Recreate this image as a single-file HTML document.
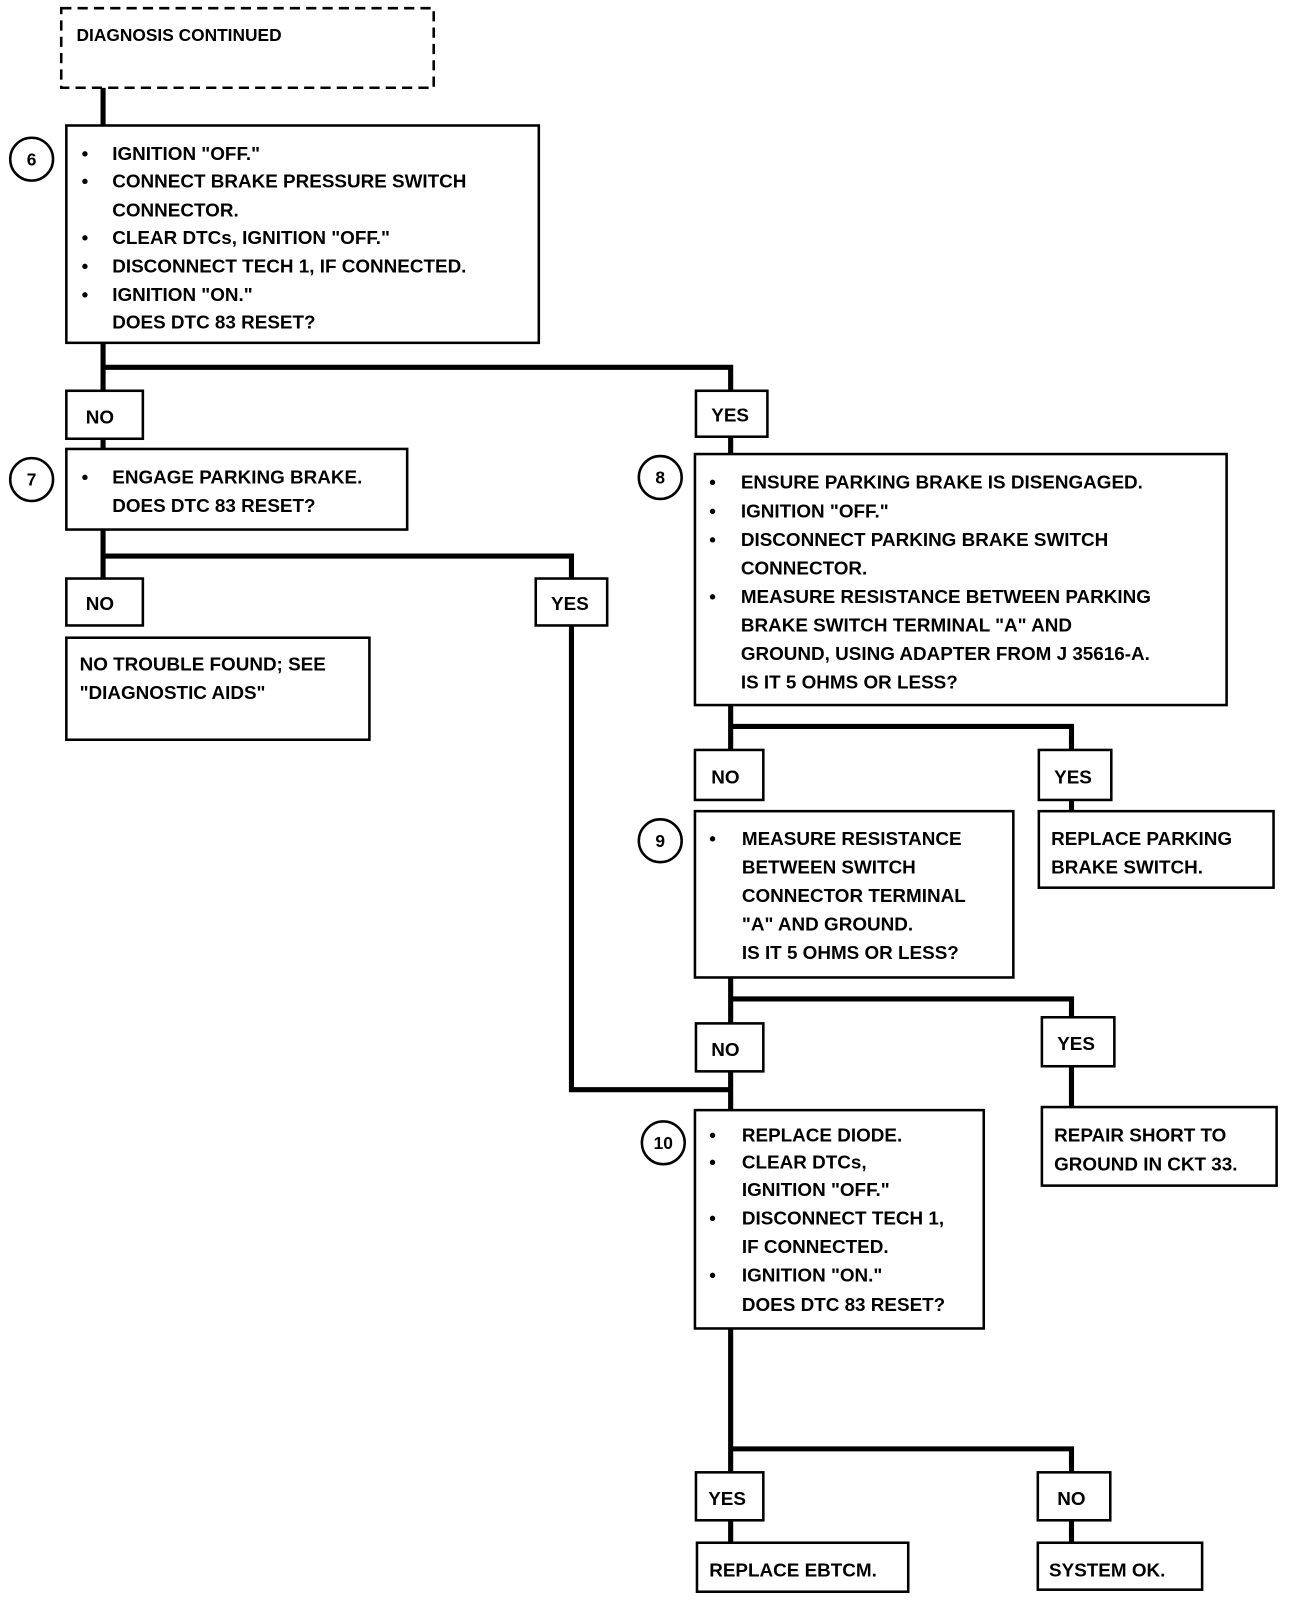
<!DOCTYPE html>
<html><head><meta charset="utf-8"><style>
html,body{margin:0;padding:0;background:#fff}
svg{display:block}
text{font-family:"Liberation Sans",sans-serif;font-weight:bold;font-size:18.5px;fill:#000}
.b{fill:#fff;stroke:#000;stroke-width:2.5}
.l{stroke:#000;stroke-width:5;fill:none}
.c{fill:#fff;stroke:#000;stroke-width:2.5}
.n{font-size:17px;text-anchor:middle}
</style></head><body>
<svg width="1296" height="1606" viewBox="0 0 1270 1574" preserveAspectRatio="none" xmlns="http://www.w3.org/2000/svg">
<!-- connectors -->
<path class="l" d="M101 86V440M101 360H716V445M101 519V567M101 545H560V1068H716M716 691V735M716 712H1050V795M716 958V1088M716 979H1050V1085M716 1302V1512M716 1420H1050V1512"/>
<!-- dashed -->
<rect x="60" y="8" width="365" height="78" fill="#fff" stroke="#000" stroke-width="2.5" stroke-dasharray="10,6"/>
<text x="75" y="40" style="font-size:17px">DIAGNOSIS CONTINUED</text>

<!-- box 6 -->
<rect class="b" x="65" y="123" width="463" height="213"/>
<circle class="c" cx="31" cy="156" r="21"/><text class="n" x="31" y="162">6</text>
<g>
<text x="80" y="157">•</text><text x="110" y="157">IGNITION "OFF."</text>
<text x="80" y="184">•</text><text x="110" y="184">CONNECT BRAKE PRESSURE SWITCH</text>
<text x="110" y="212">CONNECTOR.</text>
<text x="80" y="239">•</text><text x="110" y="239">CLEAR DTCs, IGNITION "OFF."</text>
<text x="80" y="267">•</text><text x="110" y="267">DISCONNECT TECH 1, IF CONNECTED.</text>
<text x="80" y="295">•</text><text x="110" y="295">IGNITION "ON."</text>
<text x="110" y="322">DOES DTC 83 RESET?</text>
</g>

<rect class="b" x="65" y="383" width="75" height="47"/><text x="84" y="415">NO</text>
<rect class="b" x="682" y="383" width="70" height="45"/><text x="697" y="413">YES</text>

<!-- box 7 -->
<rect class="b" x="65" y="440" width="334" height="79"/>
<circle class="c" cx="31" cy="470" r="21"/><text class="n" x="31" y="476">7</text>
<text x="80" y="474">•</text><text x="110" y="474">ENGAGE PARKING BRAKE.</text>
<text x="110" y="502">DOES DTC 83 RESET?</text>

<rect class="b" x="65" y="567" width="75" height="46"/><text x="84" y="598">NO</text>
<rect class="b" x="525" y="567" width="70" height="46"/><text x="540" y="598">YES</text>

<rect class="b" x="65" y="625" width="297" height="100"/>
<text x="78" y="657">NO TROUBLE FOUND; SEE</text>
<text x="78" y="685">"DIAGNOSTIC AIDS"</text>

<!-- box 8 -->
<rect class="b" x="681" y="445" width="521" height="246"/>
<circle class="c" cx="647" cy="468" r="21"/><text class="n" x="647" y="474">8</text>
<text x="695" y="479">•</text><text x="726" y="479">ENSURE PARKING BRAKE IS DISENGAGED.</text>
<text x="695" y="507">•</text><text x="726" y="507">IGNITION "OFF."</text>
<text x="695" y="535">•</text><text x="726" y="535">DISCONNECT PARKING BRAKE SWITCH</text>
<text x="726" y="563">CONNECTOR.</text>
<text x="695" y="591">•</text><text x="726" y="591">MEASURE RESISTANCE BETWEEN PARKING</text>
<text x="726" y="619">BRAKE SWITCH TERMINAL "A" AND</text>
<text x="726" y="647">GROUND, USING ADAPTER FROM J 35616-A.</text>
<text x="726" y="675">IS IT 5 OHMS OR LESS?</text>

<rect class="b" x="681" y="735" width="67" height="49"/><text x="697" y="768">NO</text>
<rect class="b" x="1018" y="735" width="71" height="49"/><text x="1033" y="768">YES</text>

<!-- box 9 -->
<rect class="b" x="681" y="795" width="312" height="163"/>
<circle class="c" cx="647" cy="824" r="21"/><text class="n" x="647" y="830">9</text>
<text x="695" y="828">•</text><text x="727" y="828">MEASURE RESISTANCE</text>
<text x="727" y="856">BETWEEN SWITCH</text>
<text x="727" y="884">CONNECTOR TERMINAL</text>
<text x="727" y="912">"A" AND GROUND.</text>
<text x="727" y="940">IS IT 5 OHMS OR LESS?</text>

<rect class="b" x="1018" y="795" width="230" height="75"/>
<text x="1030" y="828">REPLACE PARKING</text>
<text x="1030" y="856">BRAKE SWITCH.</text>

<rect class="b" x="682" y="1003" width="66" height="47"/><text x="697" y="1035">NO</text>
<rect class="b" x="1021" y="997" width="71" height="48"/><text x="1036" y="1029">YES</text>

<!-- box 10 -->
<rect class="b" x="681" y="1088" width="283" height="214"/>
<circle class="c" cx="650" cy="1120" r="21"/><text class="n" x="650" y="1126">10</text>
<text x="695" y="1119">•</text><text x="727" y="1119">REPLACE DIODE.</text>
<text x="695" y="1145">•</text><text x="727" y="1145">CLEAR DTCs,</text>
<text x="727" y="1172">IGNITION "OFF."</text>
<text x="695" y="1200">•</text><text x="727" y="1200">DISCONNECT TECH 1,</text>
<text x="727" y="1228">IF CONNECTED.</text>
<text x="695" y="1256">•</text><text x="727" y="1256">IGNITION "ON."</text>
<text x="727" y="1285">DOES DTC 83 RESET?</text>

<rect class="b" x="1021" y="1085" width="230" height="77"/>
<text x="1033" y="1119">REPAIR SHORT TO</text>
<text x="1033" y="1147">GROUND IN CKT 33.</text>

<rect class="b" x="682" y="1443" width="66" height="47"/><text x="694" y="1475">YES</text>
<rect class="b" x="1017" y="1443" width="71" height="47"/><text x="1036" y="1475">NO</text>

<rect class="b" x="683" y="1512" width="207" height="48"/><text x="695" y="1545">REPLACE EBTCM.</text>
<rect class="b" x="1017" y="1512" width="161" height="46"/><text x="1028" y="1545">SYSTEM OK.</text>
</svg>
</body></html>
